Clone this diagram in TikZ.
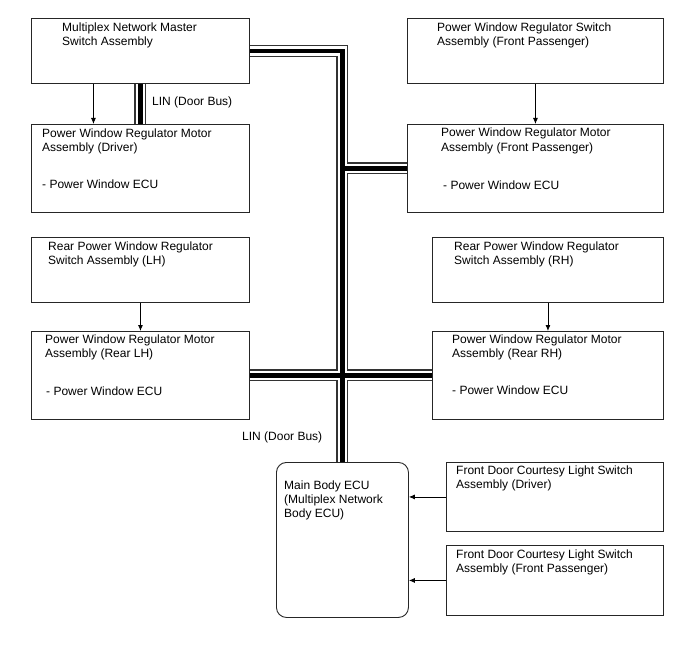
\documentclass[tikz,border=0pt]{standalone}
\usepackage{fontspec}
\setmainfont{Liberation Sans}
\usepackage{tikz}
\usetikzlibrary{arrows.meta,positioning,calc,backgrounds}

\begin{document}
\begin{tikzpicture}[x=1pt,y=-1pt,font=\fontsize{12}{14}\selectfont,
    box/.style={draw=black!85,line width=0.9pt,anchor=north west,inner sep=0pt},
    txt/.style={anchor=base west,inner sep=0pt,align=left},
    sig/.style={-{Latex[length=6pt,width=5pt]},line width=0.8pt}]
        \useasboundingbox (0,0) rectangle (688,658);
        % Left column (base anchor sits on the last text line)
        \node[box,minimum width=218pt,minimum height=65pt] (master) at (31,18) {};
        \node[txt] (masterT) at (62,45.5) {Multiplex Network Master\\Switch Assembly};
        \node[box,minimum width=218pt,minimum height=88pt] (drMotor) at (31,124) {};
        \node[txt] (drMotorT) at (42,151.6) {Power Window Regulator Motor\\Assembly (Driver)};
        \node[txt] (drMotorE) at (42,188.6) {- Power Window ECU};
        \node[box,minimum width=218pt,minimum height=65pt] (rlSwitch) at (31,237) {};
        \node[txt] (rlSwitchT) at (48,264.3) {Rear Power Window Regulator\\Switch Assembly (LH)};
        \node[box,minimum width=218pt,minimum height=88pt] (rlMotor) at (31,331) {};
        \node[txt] (rlMotorT) at (45,357.6) {Power Window Regulator Motor\\Assembly (Rear LH)};
        \node[txt] (rlMotorE) at (46,395.3) {- Power Window ECU};
        % Right column
        \node[box,minimum width=256pt,minimum height=65pt] (fpSwitch) at (407,18) {};
        \node[txt] (fpSwitchT) at (437,45.3) {Power Window Regulator Switch\\Assembly (Front Passenger)};
        \node[box,minimum width=256pt,minimum height=88pt] (fpMotor) at (407,124) {};
        \node[txt] (fpMotorT) at (441,151) {Power Window Regulator Motor\\Assembly (Front Passenger)};
        \node[txt] (fpMotorE) at (443,189.3) {- Power Window ECU};
        \node[box,minimum width=231pt,minimum height=65pt] (rrSwitch) at (432,237) {};
        \node[txt] (rrSwitchT) at (454,264.3) {Rear Power Window Regulator\\Switch Assembly (RH)};
        \node[box,minimum width=231pt,minimum height=88pt] (rrMotor) at (432,331) {};
        \node[txt] (rrMotorT) at (452,357.6) {Power Window Regulator Motor\\Assembly (Rear RH)};
        \node[txt] (rrMotorE) at (452,394.6) {- Power Window ECU};
        % Main body ECU and courtesy switches
        \node[box,rounded corners=10pt,minimum width=132pt,minimum height=155pt] (ecu) at (276,462) {};
        \node[txt] (ecuT) at (284,517.6) {Main Body ECU\\(Multiplex Network\\Body ECU)};
        \node[box,minimum width=217pt,minimum height=69pt] (fdDriver) at (446,462) {};
        \node[txt] (fdDriverT) at (456,488.3) {Front Door Courtesy Light Switch\\Assembly (Driver)};
        \node[box,minimum width=217pt,minimum height=70pt] (fdPass) at (446,545) {};
        \node[txt] (fdPassT) at (456,572) {Front Door Courtesy Light Switch\\Assembly (Front Passenger)};
        % Bus labels
        \node[txt] (linA) at (152,105.3) {LIN (Door Bus)};
        \node[txt] (linB) at (242,440.3) {LIN (Door Bus)};
        % LIN bus: outline, gap, core
        \begin{scope}[on background layer]
          \foreach \w/\c in {12/black!80,9.6/white,4.6/black}{
            \draw[line width=\w pt,\c] (master.east) -| (ecu.north);
            \draw[line width=\w pt,\c] (fpMotor.west) -- (fpMotor.west -| ecu.north);
            \draw[line width=\w pt,\c] (rlMotor.east) -- (rrMotor.west);
            \draw[line width=\w pt,\c] (master.south) -- (drMotor.north);
          }
        \end{scope}
        % Switch signals
        \draw[sig] ([xshift=-47pt]master.south) -- ([xshift=-47pt]drMotor.north);
        \draw[sig] (fpSwitch.south) -- (fpMotor.north);
        \draw[sig] (rlSwitch.south) -- (rlMotor.north);
        \draw[sig] (rrSwitch.south) -- (rrMotor.north);
        \draw[sig] (fdDriver.west) -- (fdDriver.west -| ecu.east);
        \draw[sig] (fdPass.west) -- (fdPass.west -| ecu.east);
      \end{tikzpicture}
\end{document}
